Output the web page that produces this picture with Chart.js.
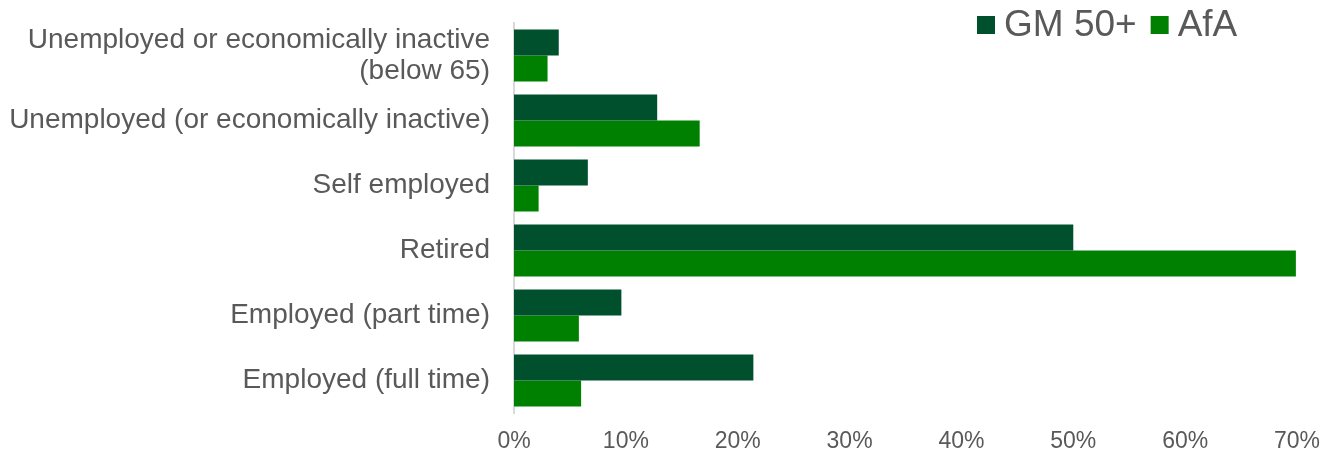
<!DOCTYPE html>
<html>
<head>
<script src="https://cdn.jsdelivr.net/npm/chart.js@4/dist/chart.umd.min.js"></script>
<style>
  body { margin: 0; background: #fff; }
  #wrap { width: 1329px; height: 450px; }
</style>
</head>
<body>
<div id="wrap"><canvas id="canvas"></canvas></div>
<script>
// employment status, share of respondents (%)
var categories = [
  ['Unemployed or economically inactive', '(below 65)'],
  'Unemployed (or economically inactive)',
  'Self employed',
  'Retired',
  'Employed (part time)',
  'Employed (full time)'
];
var gm50 = [4.0, 12.8, 6.6, 50.0, 9.6, 21.4];
var afa  = [3.0, 16.6, 2.2, 69.9, 5.8, 6.0];
var seriesNames = ['GM 50+', 'AfA'];
var seriesColours = ['#00502D', '#008000'];

var txt = '#595959';
var font = 'Arial, "Liberation Sans", sans-serif';

// legend drawn by hand so it can sit over the top-right corner of the plot
var cornerLegend = {
  id: 'cornerLegend',
  afterDraw: function (chart) {
    var ctx = chart.ctx;
    ctx.save();
    ctx.font = '37px ' + font;
    ctx.textBaseline = 'middle';
    var x = 977, y = 25;
    chart.data.datasets.forEach(function (ds) {
      ctx.fillStyle = ds.backgroundColor;
      ctx.fillRect(x, y - 9, 18, 18);
      ctx.fillStyle = txt;
      ctx.fillText(ds.label, x + 27, y + 1);
      x += 27 + ctx.measureText(ds.label).width + 14;
    });
    ctx.restore();
  }
};

var ctx = document.getElementById('canvas').getContext('2d');
var chart = new Chart(ctx, {
  type: 'bar',
  data: {
    labels: categories,
    datasets: [
      { label: seriesNames[0], data: gm50, backgroundColor: seriesColours[0] },
      { label: seriesNames[1], data: afa, backgroundColor: seriesColours[1] }
    ]
  },
  options: {
    indexAxis: 'y',
    responsive: true,
    maintainAspectRatio: false,
    animation: false,
    layout: { padding: { top: 23, right: 32, left: 0, bottom: 0 } },
    datasets: { bar: { categoryPercentage: 0.8, barPercentage: 1.0, borderWidth: 0 } },
    plugins: {
      legend: { display: false },
      tooltip: { enabled: false }
    },
    scales: {
      x: {
        min: 0,
        max: 70,
        ticks: {
          stepSize: 10,
          color: txt,
          font: { family: font, size: 23 },
          padding: 15,
          callback: function (v) { return v + '%'; }
        },
        grid: { display: false, drawTicks: false },
        border: { display: false },
        afterFit: function (s) { s.height = 37; s.paddingLeft = 0; s.paddingRight = 0; }
      },
      y: {
        ticks: {
          color: txt,
          font: { family: font, size: 28, lineHeight: 1.12 },
          padding: 24,
          autoSkip: false
        },
        grid: { display: false, drawTicks: false },
        border: { display: true, color: '#d9d9d9', width: 2 },
        afterFit: function (s) { s.width = 514; s.paddingTop = 0; s.paddingBottom = 0; }
      }
    }
  },
  plugins: [cornerLegend]
});
</script>
</body>
</html>
